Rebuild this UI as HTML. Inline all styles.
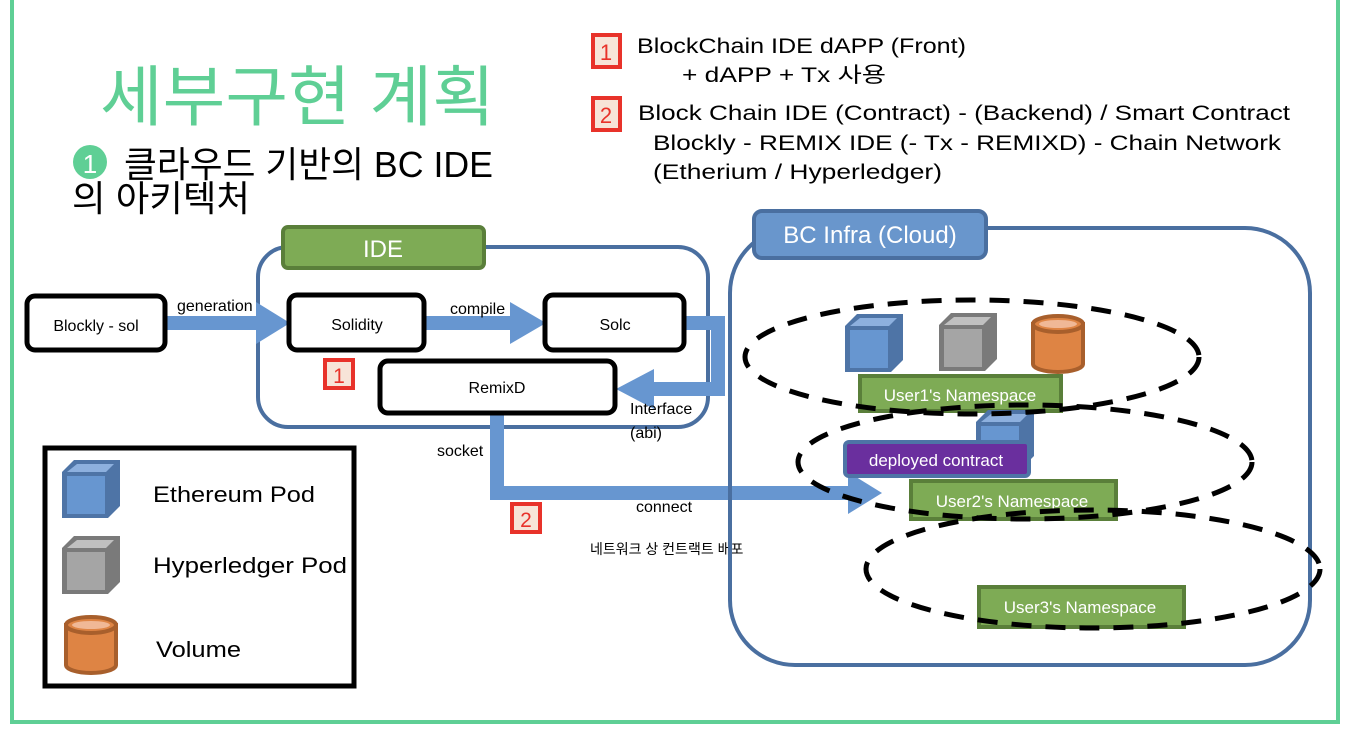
<!DOCTYPE html>
<html><head><meta charset="utf-8"><style>
html,body{margin:0;padding:0;background:#fff;}
svg{display:block;}
text{font-family:"Liberation Sans","Noto Sans CJK KR",sans-serif;}
</style></head><body>
<svg width="1356" height="733" viewBox="0 0 1356 733" xmlns="http://www.w3.org/2000/svg">
<defs>
<g id="bcube">
<path d="M0,12 L12,0 L58,0 L58,46 L46,58 L0,58 Z" fill="#4e74a6"/>
<path d="M5,12 L15,4 L52,4 L44,12 Z" fill="#8db0de"/>
<rect x="5" y="16" width="38" height="38" fill="#6796d0"/>
</g>
<g id="gcube">
<path d="M0,12 L12,0 L58,0 L58,46 L46,58 L0,58 Z" fill="#7a7a7a"/>
<path d="M5,12 L15,4 L52,4 L44,12 Z" fill="#c0c0c0"/>
<rect x="5" y="16" width="38" height="38" fill="#a5a5a5"/>
</g>
<g id="cyl">
<path d="M2,10 L2,50 A25,8 0 0 0 52,50 L52,10 Z" fill="#de8444" stroke="#a85f2c" stroke-width="4"/>
<ellipse cx="27" cy="10" rx="25" ry="8" fill="#de8444" stroke="#a85f2c" stroke-width="4"/>
<ellipse cx="27" cy="10" rx="19" ry="4" fill="#f0b896"/>
</g>
</defs>

<path d="M12,0 L12,722 L1338,722 L1338,0" fill="none" stroke="#5fcf95" stroke-width="4"/>

<text x="100" y="120" font-size="66" fill="#5fcf95" textLength="395" lengthAdjust="spacingAndGlyphs">세부구현 계획</text>
<circle cx="90" cy="162" r="17" fill="#5fcf95"/>
<text x="90" y="173" font-size="26" fill="#fff" text-anchor="middle" font-family="Liberation Serif,serif">1</text>
<text x="124" y="177" font-size="36" fill="#000" textLength="369" lengthAdjust="spacingAndGlyphs">클라우드 기반의 BC IDE</text>
<text x="72" y="211" font-size="36" fill="#000" textLength="178" lengthAdjust="spacingAndGlyphs">의 아키텍처</text>

<rect x="593" y="35" width="27" height="32" fill="#f7e4d8" stroke="#e8322a" stroke-width="4"/>
<text x="606" y="60" font-size="22" fill="#e8322a" text-anchor="middle">1</text>
<rect x="593" y="98" width="27" height="32" fill="#f7e4d8" stroke="#e8322a" stroke-width="4"/>
<text x="606" y="123" font-size="22" fill="#e8322a" text-anchor="middle">2</text>
<g font-size="21" fill="#000">
<text x="637" y="53" textLength="329" lengthAdjust="spacingAndGlyphs">BlockChain IDE dAPP (Front)</text>
<text x="682" y="82" textLength="204" lengthAdjust="spacingAndGlyphs">+ dAPP + Tx 사용</text>
<text x="638" y="120" textLength="652" lengthAdjust="spacingAndGlyphs">Block Chain IDE (Contract) - (Backend) / Smart Contract</text>
<text x="653" y="150" textLength="628" lengthAdjust="spacingAndGlyphs">Blockly - REMIX IDE (- Tx -  REMIXD) - Chain Network</text>
<text x="653" y="179" textLength="289" lengthAdjust="spacingAndGlyphs">(Etherium / Hyperledger)</text>
</g>

<rect x="258" y="247" width="450" height="180" rx="30" fill="none" stroke="#4a6fa0" stroke-width="4"/>
<rect x="283" y="227" width="201" height="41" rx="5" fill="#7eab55" stroke="#5a7f3a" stroke-width="4"/>
<text x="383" y="257" font-size="24" fill="#fff" text-anchor="middle">IDE</text>

<g fill="#6796d0">
<rect x="165" y="316" width="95" height="14"/>
<path d="M256,302 L290,323 L256,344 Z"/>
<rect x="424" y="316" width="90" height="14"/>
<path d="M510,302 L546,323 L510,344 Z"/>
<path d="M684,316 L725,316 L725,396 L652,396 L652,382 L711,382 L711,330 L684,330 Z"/>
<path d="M654,369 L616,389 L654,409 Z"/>
<path d="M490,413 L504,413 L504,486 L850,486 L850,500 L490,500 Z"/>
<path d="M848,472 L882,493 L848,514 Z"/>
</g>

<g fill="#fff" stroke="#000" stroke-width="5">
<rect x="27" y="296" width="138" height="54" rx="8"/>
<rect x="289" y="295" width="135" height="55" rx="8"/>
<rect x="545" y="295" width="139" height="55" rx="8"/>
<rect x="380" y="361" width="235" height="52" rx="8"/>
</g>
<g font-size="16" fill="#000" text-anchor="middle">
<text x="96" y="331">Blockly - sol</text>
<text x="357" y="330">Solidity</text>
<text x="615" y="330">Solc</text>
<text x="497" y="393">RemixD</text>
</g>
<g font-size="16" fill="#000">
<text x="177" y="311">generation</text>
<text x="450" y="314">compile</text>
<text x="630" y="414">Interface</text>
<text x="630" y="438">(abi)</text>
<text x="437" y="456">socket</text>
<text x="636" y="512">connect</text>
<text x="590" y="554" font-size="14">네트워크 상 컨트랙트 배포</text>
</g>

<rect x="325" y="360" width="28" height="28" fill="#f7e4d8" stroke="#e8322a" stroke-width="4"/>
<text x="339" y="383" font-size="21" fill="#e8322a" text-anchor="middle">1</text>
<rect x="512" y="504" width="28" height="28" fill="#f7e4d8" stroke="#e8322a" stroke-width="4"/>
<text x="526" y="527" font-size="21" fill="#e8322a" text-anchor="middle">2</text>

<rect x="45" y="448" width="309" height="238" fill="#fff" stroke="#000" stroke-width="5"/>
<use href="#bcube" x="62" y="460"/>
<use href="#gcube" x="62" y="536"/>
<use href="#cyl" x="64" y="615"/>
<g font-size="22" fill="#000">
<text x="153" y="502" textLength="162" lengthAdjust="spacingAndGlyphs">Ethereum Pod</text>
<text x="153" y="573" textLength="194" lengthAdjust="spacingAndGlyphs">Hyperledger Pod</text>
<text x="156" y="657" textLength="85" lengthAdjust="spacingAndGlyphs">Volume</text>
</g>

<rect x="730" y="228" width="580" height="437" rx="65" fill="none" stroke="#4a6fa0" stroke-width="4"/>
<rect x="754" y="211" width="232" height="47" rx="8" fill="#6996cc" stroke="#4a6fa0" stroke-width="4"/>
<text x="870" y="243" font-size="24" fill="#fff" text-anchor="middle">BC Infra (Cloud)</text>

<use href="#bcube" x="845" y="314"/>
<use href="#gcube" x="939" y="313"/>
<use href="#cyl" x="1031" y="314"/>

<rect x="860" y="376" width="201" height="35" fill="#7eab55" stroke="#5a7f3a" stroke-width="4"/>
<text x="960" y="401" font-size="17" fill="#fff" text-anchor="middle">User1's Namespace</text>

<use href="#bcube" x="976" y="410"/>
<rect x="845" y="442" width="184" height="34" rx="4" fill="#6a2f9e" stroke="#4e74a6" stroke-width="4"/>
<text x="936" y="466" font-size="17" fill="#fff" text-anchor="middle">deployed contract</text>

<rect x="911" y="481" width="205" height="38" fill="#7eab55" stroke="#5a7f3a" stroke-width="4"/>
<text x="1012" y="507" font-size="17" fill="#fff" text-anchor="middle">User2's Namespace</text>

<rect x="979" y="587" width="205" height="40" fill="#7eab55" stroke="#5a7f3a" stroke-width="4"/>
<text x="1080" y="613" font-size="17" fill="#fff" text-anchor="middle">User3's Namespace</text>

<g fill="none" stroke="#000" stroke-width="5" stroke-dasharray="20,14">
<ellipse cx="972" cy="357" rx="227" ry="57"/>
<ellipse cx="1025" cy="462" rx="227" ry="57"/>
<ellipse cx="1093" cy="569" rx="227" ry="59"/>
</g>
</svg>
</body></html>
